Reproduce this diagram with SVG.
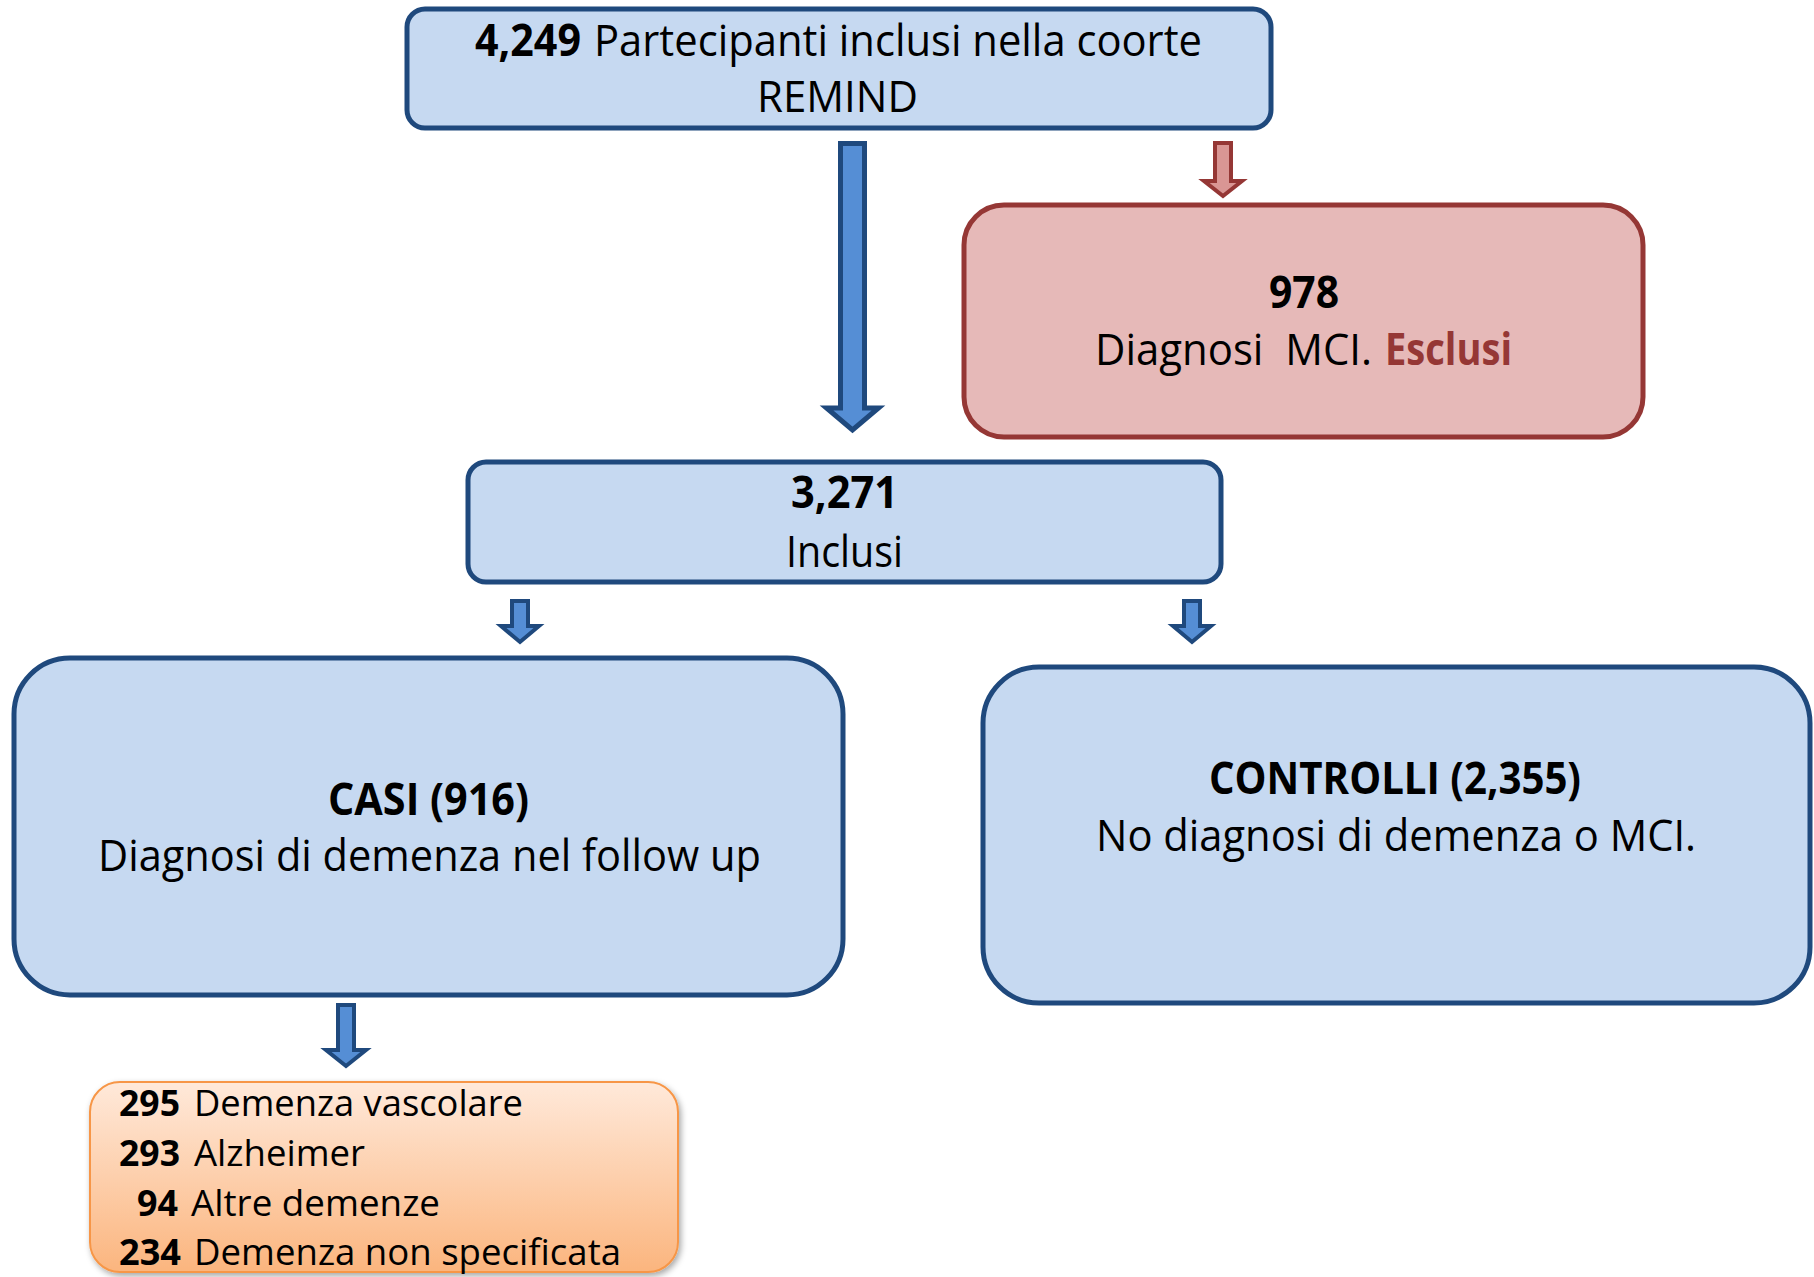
<svg xmlns="http://www.w3.org/2000/svg" width="1814" height="1277" viewBox="0 0 1814 1277">
<style>
.bbox{fill:#C6D9F1;stroke:#1F497D;stroke-width:5}
.rbox{fill:#E6B9B8;stroke:#953735;stroke-width:5}
.barr{fill:#558ED5;stroke:#1F497D;stroke-width:5;stroke-linejoin:miter}
.sarr{fill:#558ED5;stroke:#1F497D;stroke-width:4;stroke-linejoin:miter}
.rarr{fill:#D99694;stroke:#953735;stroke-width:4;stroke-linejoin:miter}
text{font-family:"Open Sans","Noto Sans","Liberation Sans",sans-serif;fill:#000}
.t{font-size:44px}
.o{font-size:36px}
.b{font-weight:bold}
.red{fill:#953735}
</style>
<defs>
<linearGradient id="og" x1="0" y1="0" x2="0" y2="1">
<stop offset="0" stop-color="#FFE9DA"/>
<stop offset="1" stop-color="#FBB57E"/>
</linearGradient>
<filter id="sh" x="-5%" y="-5%" width="110%" height="115%">
<feDropShadow dx="2" dy="3" stdDeviation="3" flood-color="#000" flood-opacity="0.35"/>
</filter>
</defs>

<g id="connectors">
<polygon class="barr" points="840.5,143.5 864.5,143.5 864.5,408 878.5,408 852.5,430 826.5,408 840.5,408"/>
<polygon class="rarr" points="1215,143 1231,143 1231,181 1242,181 1223,196 1204,181 1215,181"/>
<polygon class="sarr" points="512,601 528,601 528,626 539,626 520,642 501,626 512,626"/>
<polygon class="sarr" points="1184,601 1200,601 1200,626 1211,626 1192,642 1173,626 1184,626"/>
<polygon class="sarr" points="338,1005 354,1005 354,1050 366,1050 346,1066 326,1050 338,1050"/>
</g>

<g id="node-coorte">
<rect class="bbox" x="407" y="9" width="864" height="119" rx="18"/>
<text class="t b" x="475" y="56" textLength="106" lengthAdjust="spacingAndGlyphs">4,249</text>
<text class="t" x="594" y="56" textLength="608" lengthAdjust="spacingAndGlyphs">Partecipanti inclusi nella coorte</text>
<text class="t" x="757" y="112" textLength="161" lengthAdjust="spacingAndGlyphs">REMIND</text>
</g>

<g id="node-esclusi">
<rect class="rbox" x="964" y="205" width="679" height="232" rx="40"/>
<text class="t b" x="1269" y="308" textLength="70" lengthAdjust="spacingAndGlyphs">978</text>
<text class="t" x="1095" y="365" textLength="277" lengthAdjust="spacingAndGlyphs" style="white-space:pre">Diagnosi  MCI.</text>
<text class="t b red" x="1385" y="365" textLength="127" lengthAdjust="spacingAndGlyphs">Esclusi</text>
</g>

<g id="node-inclusi">
<rect class="bbox" x="468" y="462" width="753" height="120" rx="18"/>
<text class="t b" x="791" y="508" textLength="107" lengthAdjust="spacingAndGlyphs">3,271</text>
<text class="t" x="786" y="567" textLength="117" lengthAdjust="spacingAndGlyphs">Inclusi</text>
</g>

<g id="node-casi">
<rect class="bbox" x="14" y="658" width="829" height="337" rx="56"/>
<text class="t b" x="328" y="815" textLength="201" lengthAdjust="spacingAndGlyphs">CASI (916)</text>
<text class="t" x="98" y="871" textLength="663" lengthAdjust="spacingAndGlyphs">Diagnosi di demenza nel follow up</text>
</g>

<g id="node-controlli">
<rect class="bbox" x="983" y="667" width="827" height="336" rx="56"/>
<text class="t b" x="1209" y="794" textLength="372" lengthAdjust="spacingAndGlyphs">CONTROLLI (2,355)</text>
<text class="t" x="1096" y="851" textLength="600" lengthAdjust="spacingAndGlyphs">No diagnosi di demenza o MCI.</text>
</g>

<g id="node-tipi">
<rect x="90" y="1082" width="588" height="190" rx="30" fill="url(#og)" stroke="#F79646" stroke-width="2" filter="url(#sh)"/>
<text class="o b" x="119" y="1116" textLength="61" lengthAdjust="spacingAndGlyphs">295</text>
<text class="o" x="194" y="1116" textLength="329" lengthAdjust="spacingAndGlyphs">Demenza vascolare</text>
<text class="o b" x="119" y="1166" textLength="61" lengthAdjust="spacingAndGlyphs">293</text>
<text class="o" x="194" y="1166" textLength="171" lengthAdjust="spacingAndGlyphs">Alzheimer</text>
<text class="o b" x="137" y="1216" textLength="41" lengthAdjust="spacingAndGlyphs">94</text>
<text class="o" x="191" y="1216" textLength="249" lengthAdjust="spacingAndGlyphs">Altre demenze</text>
<text class="o b" x="119" y="1265" textLength="62" lengthAdjust="spacingAndGlyphs">234</text>
<text class="o" x="194" y="1265" textLength="427" lengthAdjust="spacingAndGlyphs">Demenza non specificata</text>
</g>
</svg>
